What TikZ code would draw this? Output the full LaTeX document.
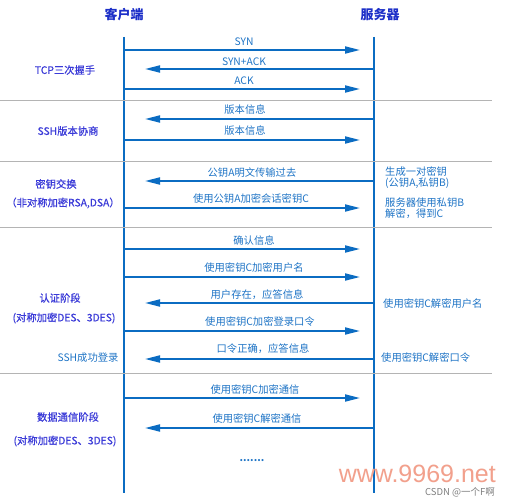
\documentclass[tikz,border=0pt]{standalone}
\usepackage{fontspec}
\newfontfamily\cjk{Noto Sans CJK SC}
\newfontfamily\cjkb{Noto Sans CJK SC}[FakeBold=0.6]
\usetikzlibrary{arrows.meta}
\definecolor{lineblue}{HTML}{0B6CC2}
\definecolor{txtblue}{HTML}{1E74C6}
\definecolor{stageblue}{HTML}{3A3AD8}
\definecolor{titleblue}{HTML}{1C2FC8}
\definecolor{sepgray}{HTML}{B4B4B4}
\definecolor{wm}{HTML}{F2A08C}
\tikzset{
  life/.style={draw=lineblue, line width=2.4pt},
  msg/.style={draw=lineblue, line width=1.8pt, -{Triangle[length=15pt,width=7pt]}},
  toright/.style={msg, shorten >=14pt},
  toleft/.style={msg, shorten >=21pt},
  sep/.style={draw=sepgray, line width=1pt},
  lab/.style={font=\cjk\fontsize{10.3}{12}\selectfont, text=txtblue, inner sep=0pt},
  note/.style={font=\cjk\fontsize{10.3}{11}\selectfont, text=txtblue, inner sep=0pt, align=left, anchor=west},
  stage/.style={font=\cjkb\fontsize{10.3}{12}\selectfont, text=stageblue, inner sep=0pt},
  ttl/.style={font=\cjk\bfseries\fontsize{13}{15}\selectfont, text=titleblue, inner sep=0pt}
}
\begin{document}
\begin{tikzpicture}[x=1pt,y=-1pt]
\useasboundingbox (0,0) rectangle (505,500);
\fill[white] (0,0) rectangle (505,500);
% titles
\node[ttl] (tc) at (124,15) {客户端};
\node[ttl] (ts) at (380,15) {服务器};
% lifelines
\coordinate (ctop) at (124,37);
\coordinate (cbot) at (124,493);
\coordinate (stop) at (374,37);
\coordinate (sbot) at (374,493);
\draw[life] (ctop) -- (cbot);
\draw[life] (stop) -- (sbot);
% separators
\coordinate (l1a) at (0,101); \coordinate (l1b) at (492,101);
\coordinate (l2a) at (0,161); \coordinate (l2b) at (492,161);
\coordinate (l3a) at (0,227); \coordinate (l3b) at (492,227);
\coordinate (l4a) at (0,373); \coordinate (l4b) at (492,373);
\draw[sep] (l1a) -- (l1b);
\draw[sep] (l2a) -- (l2b);
\draw[sep] (l3a) -- (l3b);
\draw[sep] (l4a) -- (l4b);
% message endpoints
\foreach \n/\y in {1/50,2/69,3/89,4/119,5/140,6/181,7/208,8/249,9/277,10/303,11/331,12/359,13/398,14/428}{
  \coordinate (c\n) at (124,\y);
  \coordinate (s\n) at (374,\y);
}
% TCP
\draw[toright] (c1) -- (s1);  \node[lab] (m1) at (244,42) {SYN};
\draw[toleft]  (s2) -- (c2);  \node[lab] (m2) at (244,62) {SYN+ACK};
\draw[toright] (c3) -- (s3);  \node[lab] (m3) at (244,81) {ACK};
\node[stage] (g1) at (65,70) {TCP三次握手};
% version
\draw[toleft]  (s4) -- (c4);  \node[lab] (m4) at (245,110) {版本信息};
\draw[toright] (c5) -- (s5);  \node[lab] (m5) at (245,131) {版本信息};
\node[stage] (g2) at (68,131) {SSH版本协商};
% key exchange
\draw[toleft]  (s6) -- (c6);  \node[lab] (m6) at (252,173) {公钥A明文传输过去};
\draw[toright] (c7) -- (s7);  \node[lab] (m7) at (251,199) {使用公钥A加密会话密钥C};
\node[stage] (g3) at (56,184) {密钥交换};
\node[stage] (g3b) at (63,203) {（非对称加密RSA,DSA）};
\node[note] (n1) at (385,178) {生成一对密钥\\(公钥A,私钥B)};
\node[note] (n2) at (385,208) {服务器使用私钥B\\解密，得到C};
% authentication
\draw[toright] (c8) -- (s8);   \node[lab] (m8) at (254,241) {确认信息};
\draw[toright] (c9) -- (s9);   \node[lab] (m9) at (254,268) {使用密钥C加密用户名};
\draw[toleft]  (s10) -- (c10); \node[lab] (m10) at (257,295) {用户存在，应答信息};
\draw[toright] (c11) -- (s11); \node[lab] (m11) at (260,322) {使用密钥C加密登录口令};
\draw[toleft]  (s12) -- (c12); \node[lab] (m12) at (263,349) {口令正确，应答信息};
\node[stage] (g4) at (60,298) {认证阶段};
\node[stage] (g4b) at (64,318) {(对称加密DES、3DES)};
\node[note] (n3) at (383,304) {使用密钥C解密用户名};
\node[note] (n4) at (381,358) {使用密钥C解密口令};
\node[lab] (ok) at (88,358) {SSH成功登录};
% data
\draw[toright] (c13) -- (s13); \node[lab] (m13) at (255,390) {使用密钥C加密通信};
\draw[toleft]  (s14) -- (c14); \node[lab] (m14) at (257,419) {使用密钥C解密通信};
\node[stage] (g5) at (68,417) {数据通信阶段};
\node[stage] (g5b) at (65,441) {(对称加密DES、3DES)};
\node[lab, font=\cjk\bfseries\fontsize{10}{10}\selectfont] (dots) at (252,461) {.......};
% watermark
\node[inner sep=0pt, text=wm, font=\fontspec{Liberation Sans}\fontsize{25}{25}\selectfont, anchor=east] (w1) at (496,474) {www.9969.net};
\node[inner sep=0pt, text=gray, font=\cjk\fontsize{9.5}{10}\selectfont, anchor=east] (w2) at (495,492) {CSDN @一个F啊};
\end{tikzpicture}
\end{document}
